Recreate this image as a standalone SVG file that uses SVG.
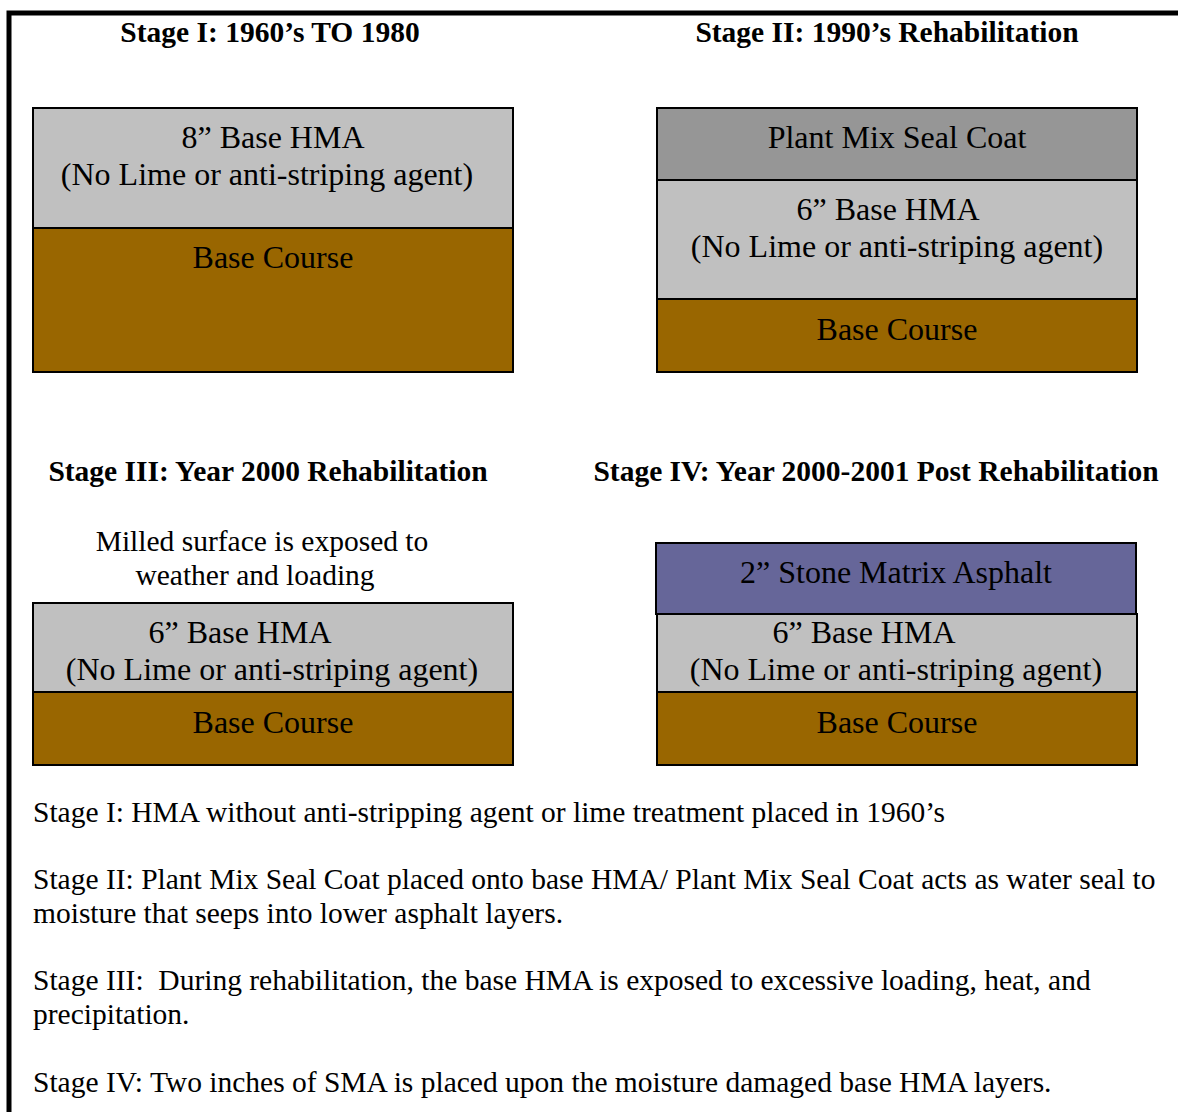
<svg xmlns="http://www.w3.org/2000/svg" width="1178" height="1112" viewBox="0 0 1178 1112">
<style>
text{font-family:"Liberation Serif","Times New Roman",serif;fill:#000}
.t{font-size:29.5px;font-weight:bold;text-anchor:middle}
.l{font-size:32px;text-anchor:middle}
.m{font-size:29.5px;text-anchor:middle}
.b{font-size:29.5px}
.lay{stroke:#000;stroke-width:2}
.hma{fill:#C0C0C0}
.bc{fill:#996600}
.seal{fill:#969696}
.sma{fill:#666699}
</style>
<rect width="1178" height="1112" fill="#fff"/>
<path d="M9,1112 V13 H1178" fill="none" stroke="#000" stroke-width="5"/>
<g id="stage1">
<text class="t" x="270" y="42">Stage I: 1960’s TO 1980</text>
<rect class="lay hma" x="33" y="108" width="480" height="120"/>
<rect class="lay bc" x="33" y="228" width="480" height="144"/>
<text class="l" x="273" y="148">8” Base HMA</text>
<text class="l" x="267" y="185">(No Lime or anti-striping agent)</text>
<text class="l" x="273" y="268">Base Course</text>
</g>
<g id="stage2">
<text class="t" x="887" y="42">Stage II: 1990’s Rehabilitation</text>
<rect class="lay seal" x="657" y="108" width="480" height="72"/>
<rect class="lay hma" x="657" y="180" width="480" height="119"/>
<rect class="lay bc" x="657" y="299" width="480" height="73"/>
<text class="l" x="897" y="148">Plant Mix Seal Coat</text>
<text class="l" x="888" y="220">6” Base HMA</text>
<text class="l" x="897" y="257">(No Lime or anti-striping agent)</text>
<text class="l" x="897" y="340">Base Course</text>
</g>
<g id="stage3">
<text class="t" x="268" y="481">Stage III: Year 2000 Rehabilitation</text>
<text class="m" x="262" y="551">Milled surface is exposed to</text>
<text class="m" x="255" y="585">weather and loading</text>
<rect class="lay hma" x="33" y="603" width="480" height="89"/>
<rect class="lay bc" x="33" y="692" width="480" height="73"/>
<text class="l" x="240" y="643">6” Base HMA</text>
<text class="l" x="272" y="680">(No Lime or anti-striping agent)</text>
<text class="l" x="273" y="733">Base Course</text>
</g>
<g id="stage4">
<text class="t" x="876" y="481">Stage IV: Year 2000-2001 Post Rehabilitation</text>
<rect class="lay hma" x="657" y="614" width="480" height="78"/>
<rect class="lay bc" x="657" y="692" width="480" height="73"/>
<rect class="lay sma" x="656" y="543" width="480" height="71"/>
<text class="l" x="896" y="583">2” Stone Matrix Asphalt</text>
<text class="l" x="864" y="643">6” Base HMA</text>
<text class="l" x="896" y="680">(No Lime or anti-striping agent)</text>
<text class="l" x="897" y="733">Base Course</text>
</g>
<g id="notes">
<text class="b" x="33" y="822">Stage I: HMA without anti-stripping agent or lime treatment placed in 1960’s</text>
<text class="b" x="33" y="889">Stage II: Plant Mix Seal Coat placed onto base HMA/ Plant Mix Seal Coat acts as water seal to</text>
<text class="b" x="33" y="923">moisture that seeps into lower asphalt layers.</text>
<text class="b" x="33" y="990" xml:space="preserve">Stage III:  During rehabilitation, the base HMA is exposed to excessive loading, heat, and</text>
<text class="b" x="33" y="1024">precipitation.</text>
<text class="b" x="33" y="1092">Stage IV: Two inches of SMA is placed upon the moisture damaged base HMA layers.</text>
</g>
<g id="connectors"/>
</svg>
